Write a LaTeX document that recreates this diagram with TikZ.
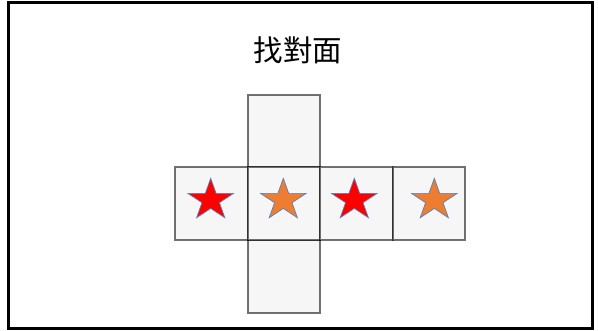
\documentclass[tikz,border=0pt]{standalone}
\usepackage{fontspec}
\newfontfamily\cjk{Noto Sans CJK TC}
\definecolor{cellfill}{HTML}{F6F6F6}
\definecolor{staredge}{HTML}{5B7FB5}
\definecolor{starorange}{HTML}{ED7D31}
\definecolor{starred}{HTML}{FF0000}
\begin{document}
\begin{tikzpicture}[x=1pt,y=-1pt,
  cell/.style={rectangle,draw=black,draw opacity=0.55,line width=2pt,fill=cellfill,minimum width=72.7pt,minimum height=72.7pt,inner sep=0pt},
  staroutline/.style={draw=staredge,line width=0.7pt,line join=miter}]
\useasboundingbox (0,0) rectangle (598,330);
\draw[line width=3pt] (8.5,2.7) rectangle (592,328);
\node[font=\cjk\fontsize{29.5}{32}\selectfont] (title) at (298,50) {找對面};
% cells
\node[cell] (top) at (284,131) {};
\node[cell] (bottom) at (284,276.4) {};
\node[cell] (c1) at (211.2,203.7) {};
\node[cell] (c2) at (284,203.7) {};
\node[cell] (c3) at (356.7,203.7) {};
\node[cell] (c4) at (429,203.7) {};
% stars
\newcommand{\mystar}[3]{%
  \draw[staroutline,fill=#3] plot coordinates {
    (#1+24*cos 90, #2-21.8*sin 90)
    (#1+0.382*24*cos 126, #2-0.382*21.8*sin 126)
    (#1+24*cos 162, #2-21.8*sin 162)
    (#1+0.382*24*cos 198, #2-0.382*21.8*sin 198)
    (#1+24*cos 234, #2-21.8*sin 234)
    (#1+0.382*24*cos 270, #2-0.382*21.8*sin 270)
    (#1+24*cos 306, #2-21.8*sin 306)
    (#1+0.382*24*cos 342, #2-0.382*21.8*sin 342)
    (#1+24*cos 18, #2-21.8*sin 18)
    (#1+0.382*24*cos 54, #2-0.382*21.8*sin 54)
  } -- cycle;}
\mystar{210.7}{200.1}{starred}
\mystar{283.3}{200.1}{starorange}
\mystar{354.3}{200.1}{starred}
\mystar{434.3}{200.1}{starorange}
\end{tikzpicture}
\end{document}
